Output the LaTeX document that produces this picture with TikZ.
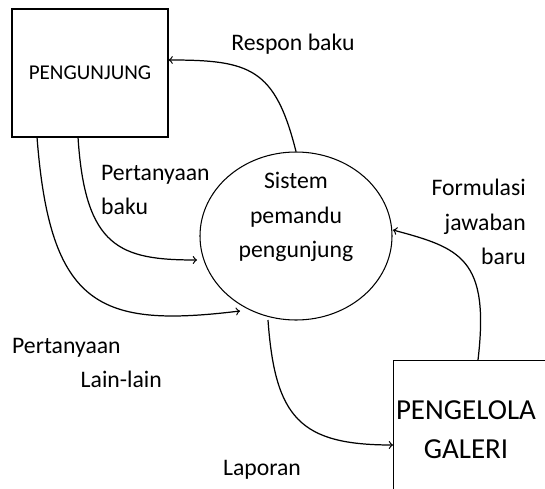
\documentclass[tikz,border=0pt]{standalone}
\usepackage{fontspec}
\setmainfont{Carlito}
\usetikzlibrary{positioning,shapes,calc}

\begin{document}
\begin{tikzpicture}[x=0.02cm,y=0.02cm,
mybox/.style={
  draw,
  rectangle,
  line width=0.7pt},
myellipse/.style={
  draw,
  ellipse,
  line width=0.6pt,
  minimum width=192*0.02cm,
  minimum height=168*0.02cm},
mylabel/.style={
  font=\fontsize{13.5}{19.5}\selectfont},
myarrow/.style={
  ->,
  line width=0.7pt}
]
\clip (0,0) rectangle (545,488);
\node[mybox, minimum width=156*0.02cm, minimum height=128*0.02cm,
  font=\fontsize{12}{14}\selectfont] (pengunjung) at (90,415) {PENGUNJUNG};
\node[myellipse] (sistem) at (296,252) {};
\node[mylabel, align=center] (sistemtxt) at (296,271) {Sistem\\pemandu\\pengunjung};
\node[mybox, anchor=north west, minimum width=200*0.02cm, minimum height=180*0.02cm] (galeri) at (393,128) {};
\node[align=center, font=\fontsize{16.5}{22}\selectfont] (galeritxt) at (466,58) {PENGELOLA\\GALERI};
\draw[myarrow] (sistem.north) .. controls (275,420) and (250,428) .. ($ (pengunjung.east) + (0,13) $);
\draw[myarrow] (78,351) coordinate (A) .. controls (85,240) and (120,228) .. (197,228) coordinate (B);
\draw[myarrow] (37,351) coordinate (C) .. controls (50,180) and (100,160) .. (240,177) coordinate (D);
\draw[myarrow] (268,168) coordinate (E) .. controls (275,70) and (300,43) .. (galeri.west |- 0,43);
\draw[myarrow] (478,128) coordinate (F) .. controls (490,230) and (460,240) .. (393,258) coordinate (G);
  \node [mylabel] (respon) at (293,444) {Respon baku};
  \node [mylabel, align=left, anchor=west] (tanyabaku) at (95,298) {Pertanyaan\\baku};
  \node [mylabel, align=left, anchor=west] (tanyalain) at (6,125) {Pertanyaan\\\hspace*{39pt}Lain-lain};
  \node [mylabel, align=right, anchor=east] (formulasi) at (532,266) {Formulasi\\jawaban\\baru};
  \node [mylabel] (laporan) at (262,18) {Laporan};
\end{tikzpicture}
\end{document}
